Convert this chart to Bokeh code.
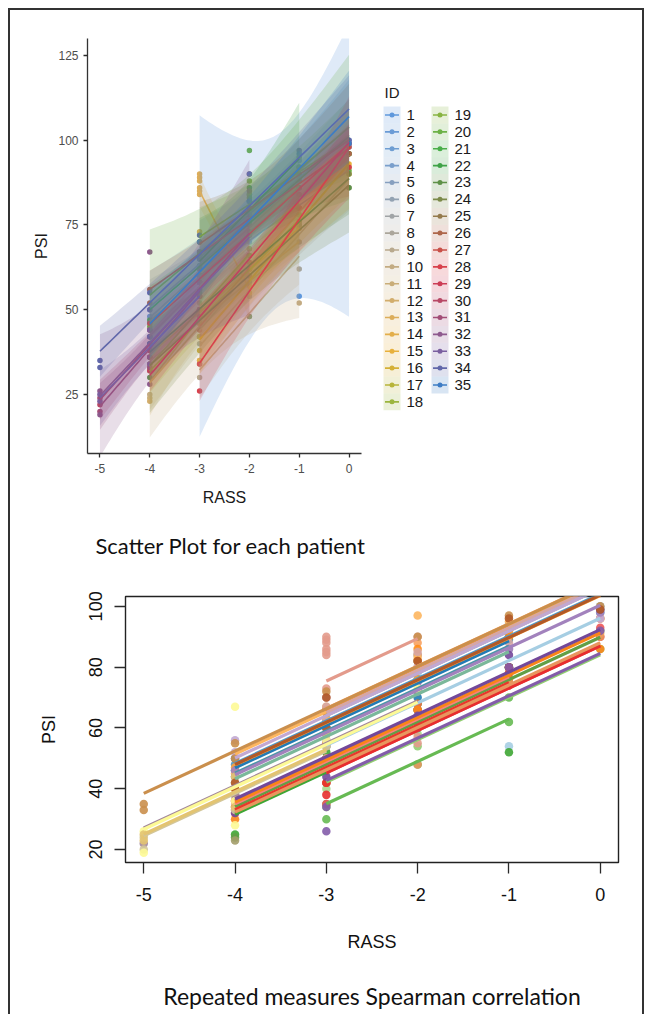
import numpy as np
from bokeh.plotting import figure
from bokeh.models import Range1d, FixedTicker, Title, ColumnDataSource, LinearAxis
from bokeh.layouts import column, row
from bokeh.core.properties import value
from bokeh.embed import file_html
from bokeh.resources import INLINE

# ---------------- data, one small list per patient ----------------
ids = list(range(1, 36))
rass_by_patient = [
    [-3, -2, -1, -1, 0], [-3, -3, -2, -1, 0], [-4, -3, -2, -1, 0], [-4, -4, -3, -3, -2, -1],
    [-4, -3, -2, -1, -1], [-4, -3, -3, -2, -1], [-3, -3, -2, -2, -1], [-3, -3, -2, -2, -1, 0],
    [-3, -3, -2, -1, -1], [-4, -4, -3, -2, -1, -1], [-4, -3, -2, -2, -1, 0], [-4, -4, -3, -3, -2],
    [-3, -3, -3, -3, -3, -3, -3, -2, -2], [-4, -4, -3, -3, -2, -1], [-3, -3, -2, -1, 0],
    [-3, -3, -2, -1, 0], [-4, -4, -3, -2, -1], [-4, -4, -3, -2, -2], [-3, -3, -2, -2, -1, 0],
    [-4, -3, -3, -2, -2, -1, 0], [-4, -3, -3, -2, -2, -1, 0], [-3, -3, -2, -2, -1],
    [-4, -4, -3, -2, -1, 0], [-4, -3, -2, -2, -1, 0], [-3, -3, -2, -2, -1, 0],
    [-4, -4, -3, -2, -1, 0], [-4, -3, -3, -2, -1, 0], [-3, -3, -2, -2, -1, 0],
    [-4, -3, -3, -2, -1, 0], [-5, -4, -4, -3, -3, -2], [-5, -5, -4, -4, -3, -3],
    [-5, -5, -4, -4, -4, -3, -3, -2], [-5, -5, -4, -4, -3, -3],
    [-5, -5, -4, -4, -3, -3, -2, -1, 0], [-4, -4, -3, -3, -2, -1, 0],
]
psi_by_patient = [
    [60, 78, 92, 54, 99], [60, 66, 84, 94, 100], [48, 63, 82, 90, 98], [46, 50, 65, 58, 70, 90],
    [44, 62, 76, 89, 80], [42, 54, 60, 72, 86], [40, 47, 58, 66, 78], [34, 42, 54, 60, 75, 86],
    [30, 35, 48, 62, 70], [25, 38, 52, 68, 80, 52], [24, 48, 62, 66, 80, 92], [23, 34, 46, 50, 66],
    [86, 89, 90, 84, 88, 73, 85, 57, 55], [36, 38, 48, 50, 62, 74], [35, 46, 62, 74, 93],
    [38, 42, 60, 80, 90], [33, 34, 42, 62, 78], [32, 36, 48, 66, 68], [66, 70, 84, 88, 92, 96],
    [45, 63, 67, 83, 97, 95, 91], [47, 65, 60, 80, 76, 92, 96], [58, 66, 82, 86, 90],
    [30, 40, 55, 66, 76, 86], [36, 50, 48, 62, 75, 90], [62, 67, 85, 90, 88, 96],
    [52, 56, 70, 80, 86, 96], [46, 60, 56, 75, 86, 98], [26, 34, 62, 60, 80, 92],
    [32, 44, 50, 64, 84, 99], [22, 38, 44, 54, 58, 72], [24, 20, 42, 33, 58, 54],
    [26, 19, 28, 36, 67, 48, 56, 73], [23, 25, 34, 44, 50, 58],
    [35, 33, 55, 50, 72, 65, 90, 97, 100], [42, 40, 60, 70, 82, 96, 99],
]
x_ticks = [-5, -4, -3, -2, -1, 0]
x_tick_labels = ["-5", "-4", "-3", "-2", "-1", "0"]
y_ticks_top = [25, 50, 75, 100, 125]
y_ticks_bottom = [20, 40, 60, 80, 100]

# ---------------- styles ----------------
top_colors = [
    "#5f98dc", "#6a9bd6", "#6f9ed2", "#7a9fcc", "#869fbf", "#93a2b2", "#a0a4a6",
    "#aba69b", "#b8a98e", "#c3ab82", "#c9ad78", "#d2ad6c", "#dcad5a", "#e3ae4a",
    "#e8b03c", "#d4b036", "#b7b43a", "#9bb53e", "#88b442", "#6db146", "#4aae4a",
    "#3fa247", "#5e9148", "#7c8a4a", "#947a4c", "#ad664a", "#c95048", "#d8414c",
    "#cc3e56", "#b84865", "#a24d77", "#8e5a8e", "#7b5f9f", "#6168aa", "#3d7cc4",
]
paired = ["#A6CEE3", "#1F78B4", "#B2DF8A", "#33A02C", "#FB9A99", "#E31A1C",
          "#FDBF6F", "#FF7F00", "#CAB2D6", "#6A3D9A", "#FFFF99", "#B15928"]


def ramp(cols, n):
    rgb = np.array([[int(c[i:i + 2], 16) for i in (1, 3, 5)] for c in cols], float)
    out = []
    for p in np.linspace(0, len(cols) - 1, n):
        i = min(int(np.floor(p)), len(cols) - 2)
        f = p - i
        c = rgb[i] * (1 - f) + rgb[i + 1] * f
        out.append("#%02x%02x%02x" % tuple(int(round(v)) for v in c))
    return out


bottom_colors = ramp(paired, 35)
t975 = [12.706, 4.303, 3.182, 2.776, 2.571, 2.447, 2.365, 2.306, 2.262, 2.228]
AX_FONT = "Liberation Sans"
CAP_FONT = "Lato"
tick_overrides = {t: s for t, s in zip(x_ticks, x_tick_labels)}


def style_axes(p, tick_out, lab_size, title_size, lab_color, title_color, line_color):
    for ax in (p.xaxis[0], p.yaxis[0]):
        ax.axis_line_color = line_color
        ax.axis_line_width = 1.3
        ax.major_tick_line_color = "#2a2a2a"
        ax.major_tick_line_width = 1.3
        ax.major_tick_out = tick_out
        ax.major_tick_in = 0
        ax.minor_tick_line_color = None
        ax.major_label_text_font = AX_FONT
        ax.major_label_text_font_size = lab_size
        ax.major_label_text_color = lab_color
        ax.axis_label_text_font = AX_FONT
        ax.axis_label_text_font_size = title_size
        ax.axis_label_text_font_style = "normal"
        ax.axis_label_text_color = title_color
    p.xaxis[0].major_label_overrides = tick_overrides


# ---------------- top figure: per-patient lm with 95% CI ----------------
p1 = figure(width=362, height=570, x_range=Range1d(-5.25, 0.25), y_range=Range1d(7.6, 130),
            output_backend="svg", toolbar_location=None,
            min_border_left=77, min_border_right=11, min_border_top=28, min_border_bottom=124)
p1.xgrid.visible = False
p1.ygrid.visible = False
p1.outline_line_color = None
p1.xaxis.ticker = FixedTicker(ticks=x_ticks)
p1.yaxis.ticker = FixedTicker(ticks=y_ticks_top)
p1.xaxis.axis_label = "RASS"
p1.yaxis.axis_label = "PSI"
style_axes(p1, 4, "12px", "16px", "#4d4d4d", "#1a1a1a", "#333333")
p1.xaxis.major_label_standoff = 6
p1.xaxis.axis_label_standoff = 13
p1.yaxis.major_label_standoff = 5
p1.yaxis.axis_label_standoff = 5
p1.title.text = ""
p1.title.text_font_size = "1px"
p1.title.standoff = 0
p1.add_layout(Title(text="Scatter Plot for each patient", align="left", offset=8, standoff=43,
                    text_font=CAP_FONT, text_font_size="22px", text_font_style="normal",
                    text_color="#111111"), "below")

for k, i in enumerate(ids):
    p1.scatter(rass_by_patient[k], psi_by_patient[k], size=5.5,
               fill_color=top_colors[k], line_color=None)

for k, i in enumerate(ids):
    x = np.array(rass_by_patient[k], float)
    y = np.array(psi_by_patient[k], float)
    n = len(x)
    xm, ym = x.mean(), y.mean()
    sxx = ((x - xm) ** 2).sum()
    b = ((x - xm) * (y - ym)).sum() / sxx
    a = ym - b * xm
    s = np.sqrt(((y - (a + b * x)) ** 2).sum() / (n - 2))
    xs = np.linspace(x.min(), x.max(), 60)
    fit = a + b * xs
    half = t975[n - 3] * s * np.sqrt(1.0 / n + (xs - xm) ** 2 / sxx)
    p1.varea(x=xs, y1=fit - half, y2=fit + half, fill_color=top_colors[k], fill_alpha=0.2)
    p1.line(xs, fit, line_color=top_colors[k], line_width=1.6)

# ---------------- legend panel (two columns, as in the reference) ----------------
pleg = figure(width=270, height=570, x_range=Range1d(0, 270), y_range=Range1d(0, 418),
              output_backend="svg", toolbar_location=None,
              min_border_left=0, min_border_right=0, min_border_top=28, min_border_bottom=124,
              x_axis_location=None, y_axis_location=None)
pleg.xgrid.visible = False
pleg.ygrid.visible = False
pleg.outline_line_color = None
pleg.title.text = ""
pleg.title.text_font_size = "1px"
pleg.title.standoff = 0

KEY = 17
rows_per_col = 18
col_key_left = [11, 59]
col_label_x = [34, 82]
first_row_y = 341
kx, ky, lx, lab, cols = [], [], [], [], []
for k, i in enumerate(ids):
    c = k // rows_per_col
    j = k % rows_per_col
    kx.append(col_key_left[c] + KEY / 2)
    ky.append(first_row_y - KEY * j)
    lx.append(col_label_x[c])
    lab.append(str(i))
    cols.append(top_colors[k])
src = ColumnDataSource(dict(kx=kx, ky=ky, x0=[v - 7 for v in kx], x1=[v + 7 for v in kx],
                            lx=lx, lab=lab, col=cols))
pleg.rect(x="kx", y="ky", width=KEY, height=KEY, fill_color="col", fill_alpha=0.2,
          line_color=None, source=src)
pleg.segment(x0="x0", x1="x1", y0="ky", y1="ky", line_color="col", line_width=1.6, source=src)
pleg.scatter(x="kx", y="ky", size=5, fill_color="col", line_color=None, source=src)
pleg.text(x="lx", y="ky", text="lab", text_font=value(AX_FONT), text_font_size="15px",
          text_baseline="middle", text_align="left", text_color="#1a1a1a", source=src)
pleg.text(x=[12], y=[first_row_y + 23], text=["ID"], text_font=value(AX_FONT),
          text_font_size="15px", text_baseline="middle", text_align="left", text_color="#1a1a1a")

# ---------------- bottom figure: repeated measures correlation ----------------
p2 = figure(width=632, height=434, x_range=Range1d(-5.2, 0.2), y_range=Range1d(15.76, 103.24),
            output_backend="svg", toolbar_location=None,
            min_border_left=115, min_border_right=24, min_border_top=16, min_border_bottom=152)
p2.xgrid.visible = False
p2.ygrid.visible = False
p2.outline_line_color = "#222222"
p2.outline_line_width = 1.4
p2.title.text = ""
p2.title.text_font_size = "1px"
p2.title.standoff = 0
p2.xaxis.ticker = FixedTicker(ticks=x_ticks)
p2.yaxis.ticker = FixedTicker(ticks=y_ticks_bottom)
p2.xaxis.axis_label = "RASS"
p2.yaxis.axis_label = "PSI"
style_axes(p2, 11, "18px", "18px", "#111111", "#111111", None)
p2.yaxis.major_label_orientation = "vertical"
p2.xaxis.major_label_standoff = 14
p2.xaxis.axis_label_standoff = 28
p2.yaxis.major_label_standoff = 12
p2.yaxis.axis_label_standoff = 28

cap_axis = LinearAxis(ticker=FixedTicker(ticks=[]), axis_label="Repeated measures Spearman correlation",
                      axis_line_color=None, major_tick_line_color=None, minor_tick_line_color=None,
                      major_tick_out=0, major_tick_in=0, major_label_standoff=0,
                      major_label_text_font_size="1px", axis_label_standoff=27,
                      axis_label_text_font=CAP_FONT, axis_label_text_font_size="23px",
                      axis_label_text_font_style="normal", axis_label_text_color="#111111")
p2.add_layout(cap_axis, "below")

# common within-subject slope (repeated-measures correlation)
num = 0.0
den = 0.0
for k in range(len(ids)):
    x = np.array(rass_by_patient[k], float)
    y = np.array(psi_by_patient[k], float)
    num += ((x - x.mean()) * (y - y.mean())).sum()
    den += ((x - x.mean()) ** 2).sum()
beta = num / den

for k, i in enumerate(ids):
    p2.scatter(rass_by_patient[k], psi_by_patient[k], size=8.5,
               fill_color=bottom_colors[k], line_color=None, fill_alpha=0.9)
for k, i in enumerate(ids):
    x = np.array(rass_by_patient[k], float)
    y = np.array(psi_by_patient[k], float)
    xs = np.array([x.min(), x.max()])
    p2.line(xs, y.mean() + beta * (xs - x.mean()), line_color=bottom_colors[k], line_width=3.2)

layout = column(row(p1, pleg, spacing=0), p2, spacing=0,
                styles={"margin-left": "8px", "margin-top": "8px",
                        "border-top": "2px solid #333333", "border-left": "2px solid #333333",
                        "border-right": "2px solid #333333"})

open("out.html", "w").write(file_html(layout, INLINE))
